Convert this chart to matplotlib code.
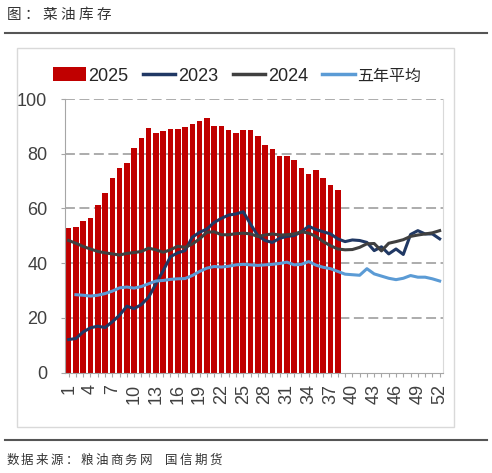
import matplotlib
matplotlib.use('Agg')
import matplotlib.pyplot as plt
import numpy as np
from matplotlib.patches import Patch, Rectangle
from matplotlib.lines import Line2D

plt.rcParams['font.family'] = ['Liberation Sans', 'Noto Sans CJK SC', 'DejaVu Sans']

# weekly rapeseed oil stocks
weeks = np.arange(1, 53)
stock_2025 = [52.7, 53.3, 55.4, 56.4, 61.2, 65.7, 71.0, 74.9, 76.7, 82.0,
              85.6, 89.3, 87.6, 88.3, 88.9, 88.9, 89.6, 91.0, 92.0, 93.2,
              90.3, 90.0, 88.6, 87.4, 88.6, 88.6, 86.3, 83.3, 81.6, 79.0,
              79.0, 77.7, 74.9, 72.7, 74.0, 71.3, 68.6, 66.9]
stock_2023 = [12.1, 12.5, 14.9, 16.4, 17.0, 16.5, 18.6, 21.0, 24.3, 23.4,
              24.9, 27.6, 32.5, 37.3, 42.4, 43.8, 44.6, 49.5, 51.3, 52.5,
              54.9, 56.4, 57.6, 58.0, 58.8, 54.3, 50.1, 48.3, 47.6, 49.1,
              49.8, 50.1, 51.5, 53.5, 52.3, 51.5, 50.7, 48.9, 47.9, 48.5,
              48.3, 47.6, 44.6, 46.0, 43.4, 45.2, 43.2, 50.5, 51.9, 50.7,
              50.7, 48.9]
stock_2024 = [48.3, 47.3, 46.1, 45.2, 44.3, 43.8, 43.4, 43.0, 43.6, 43.9,
              44.3, 45.5, 44.9, 44.0, 44.9, 46.2, 45.8, 47.0, 48.9, 51.3,
              51.5, 50.4, 50.4, 50.8, 51.0, 50.7, 49.8, 50.3, 50.7, 50.3,
              50.4, 50.7, 51.5, 51.0, 49.8, 47.9, 46.4, 45.2, 44.9, 45.0,
              45.8, 47.1, 47.2, 44.5, 47.3, 47.9, 48.6, 49.8, 50.3, 50.7,
              51.1, 51.9]
avg_5y = [np.nan, 28.5, 28.3, 28.0, 28.3, 28.9, 29.8, 31.0, 31.3, 30.9,
          31.5, 32.5, 33.5, 33.7, 34.1, 34.3, 34.4, 35.5, 37.0, 38.2,
          38.8, 38.6, 38.9, 39.4, 39.6, 39.4, 39.2, 39.4, 39.6, 39.9,
          40.4, 39.4, 39.6, 40.6, 39.3, 38.5, 38.0, 37.0, 36.0, 35.8,
          35.6, 38.0, 36.1, 35.3, 34.5, 34.0, 34.5, 35.5, 34.9, 34.9,
          34.3, 33.5]
labels = ['2025', '2023', '2024', '五年平均']

W, H = 492, 473
fig = plt.figure(figsize=(W / 100, H / 100), dpi=100)

def fx(px):
    return px / W

def fy(py):
    return 1 - py / H

# header / footer
title = '图：菜油库存'
for i, ch in enumerate(title):
    fig.text(fx(14 + i * 18), fy(15), ch, ha='center', va='center',
             fontsize=10.5, color='#333333', family=['Noto Sans CJK SC'])
src = '数据来源：粮油商务网 国信期货'
x = 12.5
for ch in src:
    if ch == ' ':
        x += 11
        continue
    fig.text(fx(x), fy(460), ch, ha='center', va='center',
             fontsize=9, color='#333333', family=['Noto Sans CJK SC'])
    x += 14.8
for yy in (33, 440):
    fig.add_artist(Line2D([fx(5), fx(487)], [fy(yy), fy(yy)], color='#555555', lw=1.5))
fig.add_artist(Rectangle((fx(17), fy(427)), fx(454) - fx(17), fy(48) - fy(427),
                         fill=False, edgecolor='#D9D9D9', lw=1))

ax = fig.add_axes([fx(65), fy(372.7), fx(443.3) - fx(65), fy(99) - fy(372.7)])

ax.bar(weeks[:len(stock_2025)], stock_2025, width=0.76, color='#C00000', zorder=2)
ax.plot(weeks, stock_2023, color='#203864', lw=2.2, zorder=3)
ax.plot(weeks, stock_2024, color='#404040', lw=2.2, zorder=3)
ax.plot(weeks, avg_5y, color='#5B9BD5', lw=2.2, zorder=3)

ax.set_xlim(0.5, 52.5)
ax.set_ylim(0, 100)
ax.set_yticks(np.arange(0, 101, 20))
ax.set_xticks(weeks)
ax.set_xticklabels([str(w) if (w - 1) % 3 == 0 else '' for w in weeks], rotation=90)
for y in range(20, 101, 20):
    ax.axhline(y, color='#A6A6A6', lw=1.3, linestyle=(0, (5.5, 2.5)), zorder=1)

ax.spines['top'].set_visible(False)
ax.spines['right'].set_color('#D9D9D9')
ax.spines['left'].set_color('#A6A6A6')
ax.spines['bottom'].set_color('#A6A6A6')
ax.tick_params(axis='both', colors='#A6A6A6', labelcolor='#404040', labelsize=13,
               length=3.2, width=0.8)
ax.tick_params(axis='y', pad=9.5)
ax.tick_params(axis='x', pad=5)

handles = [Patch(facecolor='#C00000'),
           Line2D([], [], color='#203864', lw=2.5),
           Line2D([], [], color='#404040', lw=2.5),
           Line2D([], [], color='#5B9BD5', lw=2.5)]
leg = ax.legend(handles, labels, loc='center left', bbox_to_anchor=(fx(53), fy(76)),
                bbox_transform=fig.transFigure, ncol=4, frameon=False, fontsize=13,
                handlelength=1.8, handleheight=0.8, handletextpad=0.15,
                columnspacing=0.8, borderpad=0, borderaxespad=0)
for t in leg.get_texts():
    t.set_color('#262626')
leg.get_texts()[-1].set_fontsize(11.5)

fig.savefig('out.png', dpi=100)
